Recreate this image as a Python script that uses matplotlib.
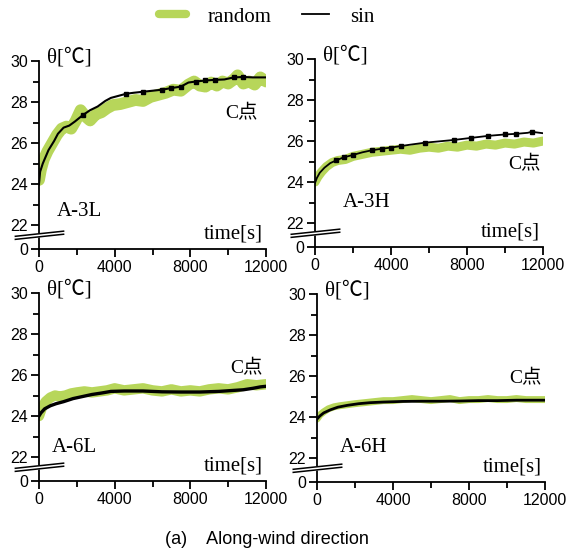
import matplotlib
matplotlib.use("Agg")
import matplotlib.pyplot as plt
from matplotlib.lines import Line2D

# --- data --------------------------------------------------------------
# A-3L
t_3L_rand = [0, 100, 250, 450, 700, 950, 1200, 1450, 1700, 1950, 2200, 2450, 2700, 3000, 3300, 3600,
             3900, 4300, 4700, 5100, 5500, 5900, 6300, 6700, 7100, 7500, 7900, 8200, 8500, 8800, 9100,
             9400, 9700, 10000, 10300, 10500, 10800, 11100, 11400, 11700, 12000]
y_3L_rand = [24.2, 24.7, 25.2, 25.6, 26.0, 26.4, 26.7, 26.8, 26.7, 27.1, 27.6, 27.3, 27.1, 27.4, 27.5, 27.7,
             27.85, 27.9, 28.0, 28.1, 28.05, 28.25, 28.35, 28.45, 28.6, 28.55, 28.85, 29.0, 28.8, 28.75, 28.95,
             28.8, 29.0, 28.9, 29.1, 29.3, 28.9, 29.0, 28.85, 29.2, 29.0]
t_3L_sin = [0, 60, 200, 500, 800, 1000, 1300, 1600, 1900, 2300, 2700, 3100, 3500, 3800, 4200, 4600, 5000,
            5500, 6000, 6500, 7000, 7500, 7900, 8300, 8800, 9300, 9800, 10300, 10800, 11300, 12000]
y_3L_sin = [24.0, 24.6, 25.0, 25.65, 26.1, 26.45, 26.75, 26.85, 27.05, 27.35, 27.6, 27.78, 28.05, 28.2, 28.3,
            28.4, 28.45, 28.5, 28.55, 28.6, 28.68, 28.75, 28.95, 29.0, 29.05, 29.08, 29.1, 29.2, 29.22, 29.2, 29.2]

# A-3H
t_3H_rand = [0, 150, 350, 600, 900, 1200, 1600, 2000, 2500, 3000, 3500, 4000, 4500, 5000, 5500, 6000, 6500,
             7000, 7500, 8000, 8500, 9000, 9500, 10000, 10500, 11000, 11500, 12000]
y_3H_rand = [24.0, 24.25, 24.5, 24.75, 24.95, 25.05, 25.1, 25.25, 25.35, 25.45, 25.5, 25.55, 25.6, 25.55,
             25.65, 25.7, 25.65, 25.75, 25.7, 25.8, 25.75, 25.85, 25.8, 25.9, 25.85, 25.95, 25.9, 26.0]
t_3H_sin = [0, 100, 250, 500, 800, 1100, 1500, 2000, 2500, 3000, 3500, 4000, 4500, 5000, 5800, 6500, 7300,
            8200, 9100, 10000, 10600, 11200, 11400, 12000]
y_3H_sin = [23.95, 24.2, 24.45, 24.7, 24.92, 25.05, 25.2, 25.32, 25.45, 25.55, 25.62, 25.68, 25.75, 25.82,
            25.92, 25.98, 26.05, 26.15, 26.25, 26.32, 26.35, 26.4, 26.45, 26.38]

# A-6L
t_6L_rand = [0, 150, 350, 600, 850, 1100, 1400, 1700, 2000, 2400, 2800, 3200, 3600, 4000, 4500, 5000, 5500,
             6000, 6500, 7000, 7500, 8000, 8500, 9000, 9500, 10000, 10500, 11000, 11500, 12000]
y_6L_rand = [24.0, 24.4, 24.7, 24.9, 25.0, 24.95, 25.0, 25.1, 25.15, 25.2, 25.15, 25.2, 25.25, 25.35, 25.25,
             25.3, 25.35, 25.25, 25.2, 25.3, 25.2, 25.25, 25.2, 25.3, 25.35, 25.3, 25.4, 25.55, 25.5, 25.55]
t_6L_sin = [0, 100, 300, 600, 900, 1300, 1800, 2300, 2800, 3300, 3800, 4500, 5500, 6500, 7500, 8500, 9500,
            10300, 10800, 11300, 11700, 12000]
y_6L_sin = [24.0, 24.15, 24.35, 24.5, 24.6, 24.7, 24.85, 24.95, 25.05, 25.12, 25.2, 25.22, 25.22, 25.18,
            25.17, 25.17, 25.2, 25.25, 25.28, 25.35, 25.42, 25.45]

# A-6H
t_6H_rand = [0, 150, 350, 600, 900, 1200, 1600, 2000, 2500, 3000, 3500, 4000, 4500, 5000, 5500, 6000, 6500,
             7000, 7500, 8000, 8500, 9000, 9500, 10000, 10500, 11000, 11500, 12000]
y_6H_rand = [23.9, 24.1, 24.25, 24.4, 24.5, 24.55, 24.6, 24.65, 24.7, 24.75, 24.8, 24.8, 24.85, 24.9, 24.85,
             24.8, 24.85, 24.9, 24.8, 24.85, 24.85, 24.9, 24.85, 24.85, 24.9, 24.85, 24.85, 24.85]
t_6H_sin = [0, 150, 350, 700, 1100, 1600, 2200, 2800, 3500, 4500, 5500, 6500, 7500, 8500, 9500, 10500,
            11500, 12000]
y_6H_sin = [23.9, 24.05, 24.2, 24.35, 24.48, 24.57, 24.65, 24.7, 24.73, 24.76, 24.77, 24.77, 24.78, 24.8,
            24.8, 24.82, 24.82, 24.82]

panel_names = ["A-3L", "A-3H", "A-6L", "A-6H"]
ytick_labels = ["0", "22", "24", "26", "28", "30"]
xticks = [0, 4000, 8000, 12000]
legend_labels = ["random", "sin"]
caption = "(a)    Along-wind direction"

GREEN = "#b7d65a"
YZERO = 20.83  # where the "0" tick sits on the broken axis
SERIF = ["Liberation Serif", "Noto Sans CJK SC", "DejaVu Serif"]

plt.rcParams["font.family"] = ["Liberation Sans", "DejaVu Sans"]

fig = plt.figure(figsize=(5.68, 5.51), dpi=100)

# [left, bottom, width, height] in figure fraction
boxes = [
    [39 / 568, 1 - 249 / 551, 227 / 568, 188 / 551],
    [315 / 568, 1 - 247 / 551, 228 / 568, 188 / 551],
    [39 / 568, 1 - 481 / 551, 227 / 568, 188 / 551],
    [317 / 568, 1 - 482 / 551, 228 / 568, 188 / 551],
]

series = [
    (t_3L_rand, y_3L_rand, t_3L_sin, y_3L_sin),
    (t_3H_rand, y_3H_rand, t_3H_sin, y_3H_sin),
    (t_6L_rand, y_6L_rand, t_6L_sin, y_6L_sin),
    (t_6H_rand, y_6H_rand, t_6H_sin, y_6H_sin),
]

green_lw = [8.5, 6.5, 7.5, 5]
black_lw = [1.5, 1.3, 2.4, 2.0]
# which points of the black line carry a small square (None = plain line)
marks = [
    [9, 15, 17, 19, 20, 21, 23, 24, 25, 27, 28],
    [5, 6, 7, 9, 10, 11, 12, 14, 16, 17, 18, 19, 20, 22],
    None,
    None,
]

# label positions (data coords): name, "C点"
name_pos = [(950, 22.68), (1475, 23.0), (700, 22.46), (1225, 22.5)]
cpt_pos = [(11570, 27.46), (11900, 24.89), (11840, 26.32), (11830, 25.88)]

for i, box in enumerate(boxes):
    ax = fig.add_axes(box)
    tr, yr, ts, ys = series[i]
    ax.plot(tr, yr, color=GREEN, lw=green_lw[i], solid_capstyle="round", solid_joinstyle="round", zorder=2)
    if marks[i] is not None:
        ax.plot(ts, ys, color="black", lw=black_lw[i], marker="s", ms=2.6, markevery=marks[i], zorder=3)
    else:
        ax.plot(ts, ys, color="black", lw=black_lw[i], zorder=3)

    ax.set_xlim(0, 12000)
    ax.set_ylim(YZERO, 30)
    ax.set_xticks(xticks)
    ax.set_xticks([2000, 6000, 10000], minor=True)
    ax.set_yticks([YZERO, 22, 24, 26, 28, 30])
    ax.set_yticklabels(ytick_labels)
    ax.set_yticks([23, 25, 27, 29], minor=True)

    for s in ["top", "right"]:
        ax.spines[s].set_visible(False)
    for s in ["left", "bottom"]:
        ax.spines[s].set_linewidth(1.3)
    ax.tick_params(which="major", length=6, width=1.3, labelsize=11.5, pad=2)
    ax.tick_params(which="minor", length=4, width=1.3)
    ax.set_facecolor("none")

    # axis break between 0 and 22
    bx = [-1250, 1300]
    ax.fill([bx[0], bx[1], bx[1], bx[0]], [21.30, 21.55, 21.70, 21.45],
            color="white", clip_on=False, zorder=5)
    ax.plot(bx, [21.30, 21.55], color="black", lw=1.1, clip_on=False, zorder=6)
    ax.plot(bx, [21.45, 21.70], color="black", lw=1.1, clip_on=False, zorder=6)

    ax.text(400, 30.17, "θ[℃]", family=SERIF, fontsize=15, ha="left", va="center")
    ax.text(11850, 21.55, "time[s]", family=SERIF, fontsize=15, ha="right", va="center")
    ax.text(name_pos[i][0], name_pos[i][1], panel_names[i], family=SERIF, fontsize=15,
            ha="left", va="center")
    ax.text(cpt_pos[i][0], cpt_pos[i][1], "C点", family=SERIF, fontsize=14,
            ha="right", va="center")

handles = [
    Line2D([], [], color=GREEN, lw=6, solid_capstyle="round"),
    Line2D([], [], color="black", lw=1.3),
]
fig.legend(handles, legend_labels, loc="center", bbox_to_anchor=(0.47, 1 - 17 / 551), ncol=2,
           frameon=False, prop={"family": SERIF, "size": 15}, handlelength=1.3,
           handletextpad=1.0, columnspacing=1.5)

fig.text(267 / 568, 1 - 539 / 551, caption, fontsize=13, ha="center", va="center")

fig.savefig("out.png", dpi=100)
